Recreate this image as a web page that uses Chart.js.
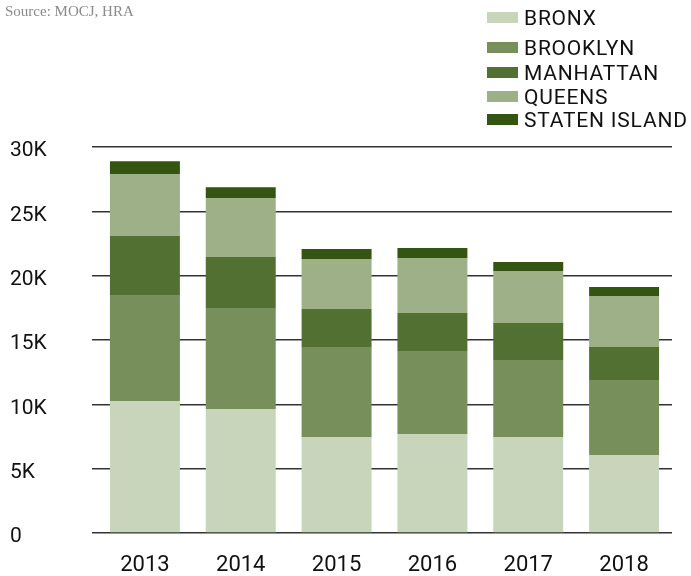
<!DOCTYPE html>
<html lang="en">
<head>
    <meta charset="UTF-8" />
    <title>Borough totals 2013-2018</title>
    <script src="https://cdn.jsdelivr.net/npm/chart.js"></script>
    <style>
        html, body { margin: 0; padding: 0; background: #fff; }
        #wrap { position: relative; width: 691px; height: 576px; }
        #source {
            position: absolute; left: 5px; top: 3px;
            font-family: "Liberation Serif", "DejaVu Serif", serif;
            font-size: 15px; color: #8a8a8a;
        }
        #legend { position: absolute; left: 487px; top: 0; }
        .item {
            position: absolute; left: 0; white-space: nowrap;
            font-family: Roboto, sans-serif; font-size: 21px; color: #111;
            letter-spacing: 0.8px; line-height: 20px;
        }
        .item span.box {
            position: absolute; left: 0; top: 4px; width: 31px; height: 11px;
        }
        .item span.txt { position: absolute; left: 37px; top: 0; }
    </style>
</head>
<body>
    <div id="wrap">
        <canvas id="chart" width="691" height="576"></canvas>
        <div id="source">Source: MOCJ, HRA</div>
        <div id="legend"></div>
    </div>

    <script>
        const years = ['2013', '2014', '2015', '2016', '2017', '2018'];
        const boroughs = ['BRONX', 'BROOKLYN', 'MANHATTAN', 'QUEENS', 'STATEN ISLAND'];
        const colors = ['#c8d5bb', '#778f5a', '#527032', '#9eb088', '#335511'];

        const bronx = [10260, 9630, 7460, 7690, 7460, 6060];
        const brooklyn = [8240, 7850, 6990, 6450, 5980, 5830];
        const manhattan = [4580, 3970, 2950, 2960, 2880, 2560];
        const queens = [4820, 4580, 3890, 4270, 4040, 3970];
        const statenIsland = [1000, 850, 780, 780, 700, 690];

        const yTicks = [0, 5000, 10000, 15000, 20000, 25000, 30000];
        const legendTops = [8, 38, 63, 87, 110];

        const series = [bronx, brooklyn, manhattan, queens, statenIsland];

        // Легенда
        const legendDiv = document.getElementById('legend');
        boroughs.forEach((name, i) => {
            const item = document.createElement('div');
            item.className = 'item';
            item.style.top = legendTops[i] + 'px';
            item.innerHTML = `<span class="box" style="background:${colors[i]}"></span><span class="txt">${name}</span>`;
            legendDiv.appendChild(item);
        });

        const ctx = document.getElementById('chart').getContext('2d');
        new Chart(ctx, {
            type: 'bar',
            data: {
                labels: years,
                datasets: series.map((vals, i) => ({
                    label: boroughs[i],
                    data: vals,
                    backgroundColor: colors[i],
                    borderWidth: 0,
                    categoryPercentage: 1,
                    barPercentage: 0.73
                }))
            },
            options: {
                responsive: false,
                animation: false,
                layout: { padding: { left: 10, right: 19, top: 147, bottom: 0 } },
                plugins: {
                    legend: { display: false },
                    tooltip: { enabled: false }
                },
                scales: {
                    x: {
                        stacked: true,
                        grid: { display: false },
                        border: { display: false },
                        ticks: {
                            color: '#111',
                            font: { family: 'Roboto', size: 22 },
                            padding: 11
                        },
                        afterFit: s => { s.height = 43; }
                    },
                    y: {
                        stacked: true,
                        min: 0,
                        max: 30000,
                        afterBuildTicks: s => { s.ticks = yTicks.map(v => ({ value: v })); },
                        grid: {
                            color: '#333',
                            lineWidth: 1.5,
                            tickLength: 5,
                            drawTicks: true
                        },
                        border: { display: false },
                        ticks: {
                            crossAlign: 'far',
                            padding: 0,
                            labelOffset: 4,
                            color: '#111',
                            font: { family: 'Roboto', size: 21 },
                            callback: v => v === 0 ? '0' : (v / 1000) + 'K'
                        },
                        afterFit: s => { s.width = 87; }
                    }
                }
            }
        });
    </script>
</body>
</html>
